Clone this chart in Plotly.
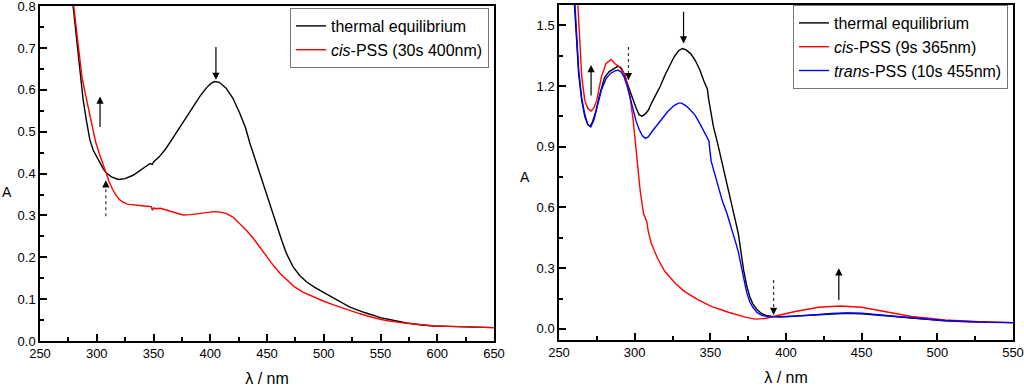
import plotly.graph_objects as go

# ---------------- Left panel data ----------------
L_teq_x = [276, 279, 282, 285, 288, 291, 294, 297, 300, 303, 306, 309, 313, 319, 325, 332, 340, 347, 349, 350,
           355, 361, 367, 373, 379, 385, 391, 397, 401, 404, 408, 414, 420, 426, 431, 435, 440, 444, 450, 455,
           459, 463, 467, 473, 479, 485, 492, 500, 510, 523, 536, 550, 562, 573, 585, 597, 610, 626, 640, 650]
L_teq_y = [0.88, 0.80, 0.725, 0.65, 0.576, 0.525, 0.48, 0.455, 0.44, 0.424, 0.41, 0.40, 0.392, 0.386, 0.388,
           0.396, 0.41, 0.424, 0.422, 0.428, 0.44, 0.46, 0.485, 0.51, 0.535, 0.56, 0.585, 0.606, 0.616, 0.62,
           0.618, 0.604, 0.58, 0.544, 0.51, 0.472, 0.43, 0.40, 0.35, 0.305, 0.272, 0.24, 0.21, 0.177, 0.156,
           0.141, 0.128, 0.116, 0.10, 0.081, 0.068, 0.056, 0.049, 0.043, 0.039, 0.036, 0.035, 0.0335, 0.033, 0.032]

L_cis_x = [278, 281, 284, 287, 290, 293, 296, 299, 302, 305, 308, 311, 314, 317, 320, 323, 327, 332, 338, 344,
           348, 349, 350, 352, 356, 362, 369, 376, 383, 391, 398, 403, 408, 414, 420, 426, 432, 438, 444, 450,
           456, 462, 468, 474, 482, 491, 500, 508, 520, 532, 545, 555, 568, 582, 597, 611, 630, 650]
L_cis_y = [0.84, 0.77, 0.70, 0.63, 0.59, 0.55, 0.51, 0.476, 0.45, 0.425, 0.40, 0.38, 0.362, 0.348, 0.338, 0.332,
           0.327, 0.325, 0.323, 0.322, 0.321, 0.312, 0.318, 0.316, 0.317, 0.312, 0.306, 0.301, 0.302, 0.305,
           0.308, 0.309, 0.308, 0.305, 0.296, 0.281, 0.264, 0.245, 0.222, 0.20, 0.179, 0.16, 0.144, 0.13, 0.116,
           0.105, 0.095, 0.087, 0.076, 0.065, 0.055, 0.049, 0.044, 0.040, 0.036, 0.035, 0.033, 0.032]

# ---------------- Right panel data ----------------
R_teq_x = [259, 261, 263, 265, 267, 269, 270.5, 272, 274, 277, 280, 283, 286, 289, 291, 293, 295, 297, 299, 301,
           303, 305, 307, 309, 311, 314, 317, 320, 323, 326, 329, 331.5, 334, 337, 340, 343, 346, 348, 349, 350.5,
           352, 355, 358, 361, 364, 367, 368.5, 370, 372, 374, 376, 378, 381, 384, 387, 391, 396, 405, 418, 430,
           440, 450, 462, 475, 490, 505, 520, 535, 550]
R_teq_y = [1.75, 1.52, 1.26, 1.13, 1.05, 1.01, 1.0, 1.02, 1.065, 1.16, 1.24, 1.27, 1.285, 1.298, 1.29, 1.262,
           1.215, 1.17, 1.13, 1.09, 1.057, 1.051, 1.062, 1.08, 1.113, 1.155, 1.20, 1.253, 1.30, 1.343, 1.374,
           1.385, 1.378, 1.36, 1.327, 1.28, 1.22, 1.185, 1.13, 1.056, 1.0, 0.91, 0.815, 0.725, 0.62, 0.52, 0.47,
           0.39, 0.29, 0.215, 0.16, 0.125, 0.094, 0.075, 0.066, 0.061, 0.06, 0.063, 0.069, 0.075, 0.077, 0.075,
           0.068, 0.06, 0.05, 0.04, 0.035, 0.032, 0.031]

R_cis_x = [261, 263, 265, 267, 269, 271.2, 273, 275, 278, 281, 284.4, 287, 290, 293.7, 297, 299, 301.4, 303.6,
           305.8, 308, 309, 311, 313, 315.7, 320, 326.8, 333, 342, 351, 362, 373, 379.7, 386, 393, 406, 421.6,
           436, 450, 465.7, 483, 505, 527.5, 550]
R_cis_y = [1.8, 1.5, 1.25, 1.13, 1.09, 1.076, 1.09, 1.13, 1.245, 1.31, 1.331, 1.31, 1.294, 1.253, 1.146, 1.031,
           0.834, 0.686, 0.571, 0.53, 0.48, 0.423, 0.385, 0.34, 0.283, 0.225, 0.184, 0.143, 0.11, 0.082, 0.058,
           0.048, 0.051, 0.064, 0.086, 0.107, 0.113, 0.107, 0.086, 0.061, 0.044, 0.035, 0.031]

R_trans_x = [259, 261, 263, 265, 267, 269, 271, 273, 275, 278, 281, 284, 287, 289, 291, 293, 295, 297, 299, 301,
             303, 305, 307, 309, 311, 314, 318, 322, 326, 329, 331, 334, 337, 340, 343, 346, 348, 349, 350.5, 352,
             355, 358, 361, 364, 367, 368.5, 370, 372, 374, 376, 378, 381, 384, 388, 392, 400, 410, 420, 430, 440,
             450, 462, 475, 490, 505, 520, 535, 550]
R_trans_y = [1.8, 1.55, 1.28, 1.14, 1.06, 1.01, 0.998, 1.03, 1.09, 1.18, 1.235, 1.262, 1.275, 1.278, 1.27, 1.245,
             1.20, 1.14, 1.08, 1.025, 0.985, 0.955, 0.941, 0.948, 0.97, 1.0, 1.04, 1.075, 1.103, 1.115, 1.115,
             1.102, 1.08, 1.055, 1.015, 0.97, 0.94, 0.93, 0.83, 0.79, 0.70, 0.63, 0.57, 0.50, 0.42, 0.38, 0.32,
             0.24, 0.18, 0.135, 0.108, 0.08, 0.067, 0.061, 0.059, 0.06, 0.064, 0.07, 0.076, 0.079, 0.077, 0.07,
             0.061, 0.05, 0.041, 0.036, 0.032, 0.031]

# Arrows: (axis, x, y_tail, y_head, dotted)
arrows = [
    ("1", 302.9, 0.508, 0.584, False),
    ("1", 405.0, 0.706, 0.624, False),
    ("1", 308.0, 0.298, 0.384, True),
    ("2", 271.2, 1.146, 1.303, False),
    ("2", 295.9, 1.393, 1.229, True),
    ("2", 332.3, 1.574, 1.410, False),
    ("2", 391.8, 0.242, 0.069, True),
    ("2", 434.9, 0.135, 0.299, False),
]

FONT = "Arial, Liberation Sans, sans-serif"
BLACK, RED, BLUE = "#000000", "#ff0000", "#0000ff"

fig = go.Figure()
fig.add_trace(go.Scatter(x=L_teq_x, y=L_teq_y, mode="lines", line=dict(color=BLACK, width=1.4),
                         name="thermal equilibrium", xaxis="x", yaxis="y", legend="legend"))
fig.add_trace(go.Scatter(x=L_cis_x, y=L_cis_y, mode="lines", line=dict(color=RED, width=1.4),
                         name="<i>cis</i>-PSS (30s 400nm)", xaxis="x", yaxis="y", legend="legend"))
fig.add_trace(go.Scatter(x=R_teq_x, y=R_teq_y, mode="lines", line=dict(color=BLACK, width=1.4),
                         name="thermal equilibrium", xaxis="x2", yaxis="y2", legend="legend2"))
fig.add_trace(go.Scatter(x=R_cis_x, y=R_cis_y, mode="lines", line=dict(color=RED, width=1.4),
                         name="<i>cis</i>-PSS (9s 365nm)", xaxis="x2", yaxis="y2", legend="legend2"))
fig.add_trace(go.Scatter(x=R_trans_x, y=R_trans_y, mode="lines", line=dict(color=BLUE, width=1.4),
                         name="<i>trans</i>-PSS (10s 455nm)", xaxis="x2", yaxis="y2", legend="legend2"))

annotations = []
shapes = []
for ax, x, yt, yh, dotted in arrows:
    xr = "x" if ax == "1" else "x2"
    yr = "y" if ax == "1" else "y2"
    if dotted:
        shapes.append(dict(type="line", xref=xr, yref=yr, x0=x, x1=x, y0=yt, y1=yh,
                           line=dict(color="#333333", width=1.2, dash="dot")))
        annotations.append(dict(xref=xr, yref=yr, x=x, y=yh, ax=0, ay=(8 if yh > yt else -8),
                                text="", showarrow=True, arrowhead=2, arrowsize=1.2,
                                arrowwidth=1.2, arrowcolor="#000000"))
    else:
        annotations.append(dict(xref=xr, yref=yr, axref=xr, ayref=yr, x=x, y=yh, ax=x, ay=yt,
                                text="", showarrow=True, arrowhead=2, arrowsize=1.2,
                                arrowwidth=1.2, arrowcolor="#000000"))

# Upright "A" axis labels
annotations.append(dict(xref="paper", yref="paper", x=7 / 1024, y=1 - 192 / 388, text="A",
                        xanchor="center", yanchor="middle",
                        showarrow=False, font=dict(family=FONT, size=14, color="black")))
annotations.append(dict(xref="paper", yref="paper", x=525 / 1024, y=1 - 177 / 388, text="A",
                        xanchor="center", yanchor="middle",
                        showarrow=False, font=dict(family=FONT, size=14, color="black")))

axis_common = dict(showline=True, linecolor="black", linewidth=1.5, mirror=True, ticks="inside",
                   ticklen=7, tickwidth=1.5, tickcolor="black", showgrid=False, zeroline=False,
                   automargin=False, ticklabeloverflow="allow",
                   tickfont=dict(family=FONT, size=13, color="black"))
minor_common = dict(ticks="inside", ticklen=4, tickcolor="black", tickwidth=1.5, showgrid=False)
xtitle = dict(text="λ / nm", font=dict(family=FONT, size=16), standoff=12)

fig.update_layout(
    width=1024, height=388, autosize=False,
    margin=dict(l=0, r=0, t=0, b=0, autoexpand=False),
    paper_bgcolor="white", plot_bgcolor="white",
    font=dict(family=FONT, size=13, color="black"),
    xaxis=dict(domain=[40 / 1024, 494 / 1024], range=[250, 650], dtick=50, tick0=250,
               minor=dict(dtick=25, **minor_common), title=xtitle, anchor="y", **axis_common),
    yaxis=dict(domain=[1 - 341 / 388, 1 - 6 / 388], range=[0, 0.8004], dtick=0.1, tick0=0,
               tickformat=".1f", minor=dict(dtick=0.05, **minor_common), anchor="x", **axis_common),
    xaxis2=dict(domain=[559 / 1024, 1013 / 1024], range=[250, 550], dtick=50, tick0=250,
                minor=dict(dtick=25, **minor_common), title=xtitle, anchor="y2", **axis_common),
    yaxis2=dict(domain=[1 - 340 / 388, 1 - 5 / 388], range=[-0.055, 1.6], dtick=0.3, tick0=0,
                tickformat=".1f", minor=dict(dtick=0.15, **minor_common), anchor="x2", **axis_common),
    legend=dict(x=489 / 1024, y=1 - 8 / 388, xanchor="right", yanchor="top",
                bordercolor="#777777", borderwidth=1, bgcolor="white",
                font=dict(family=FONT, size=16, color="black"), tracegroupgap=0),
    legend2=dict(x=1008 / 1024, y=1 - 5 / 388, xanchor="right", yanchor="top",
                 bordercolor="#777777", borderwidth=1, bgcolor="white",
                 font=dict(family=FONT, size=16, color="black"), tracegroupgap=0),
    annotations=annotations,
    shapes=shapes,
    showlegend=True,
)

fig.write_html("out.html", config={"displayModeBar": False},
               post_script="document.body.style.margin='0';document.body.style.overflow='hidden';")
